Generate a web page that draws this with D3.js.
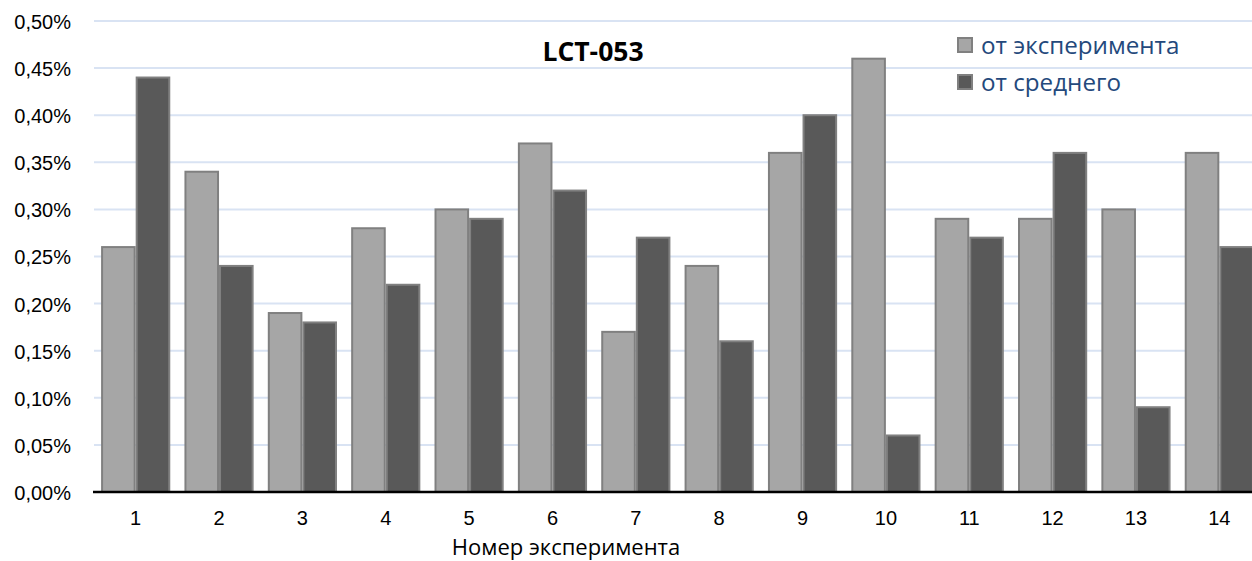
<!DOCTYPE html>
<html>
<head>
<meta charset="utf-8">
<script src="https://cdn.jsdelivr.net/npm/d3@7"></script>
<style>
  body { margin: 0; background: #fff; }
  svg { display: block; font-family: "Open Sans", "Liberation Sans", sans-serif; }
</style>
</head>
<body>
<svg id="chart" width="1252" height="561"></svg>
<script>
// Experiment numbers along the x axis
const categories = ["1","2","3","4","5","6","7","8","9","10","11","12","13","14"];
// Deviation from the experiment value, %
const fromExperiment = [0.26, 0.34, 0.19, 0.28, 0.30, 0.37, 0.17, 0.24, 0.36, 0.46, 0.29, 0.29, 0.30, 0.36];
// Deviation from the mean value, %
const fromMean = [0.44, 0.24, 0.18, 0.22, 0.29, 0.32, 0.27, 0.16, 0.40, 0.06, 0.27, 0.36, 0.09, 0.26];
const yTicks = [0, 0.05, 0.10, 0.15, 0.20, 0.25, 0.30, 0.35, 0.40, 0.45, 0.50];
const seriesNames = ["от эксперимента", "от среднего"];
const title = "LCT-053";
const xTitle = "Номер эксперимента";

const svg = d3.select("#chart");
const plotLeft = 94, plotRight = 1261, plotTop = 21, plotBottom = 492;

const x = d3.scaleBand().domain(categories).range([plotLeft, plotRight]).paddingInner(0.17).paddingOuter(0.085);
const xs = d3.scaleBand().domain([0, 1]).range([0, x.bandwidth()]);
const y = d3.scaleLinear().domain([0, 0.5]).range([plotBottom, plotTop]);
const fmt = v => v.toFixed(2).replace(".", ",") + "%";

// horizontal gridlines
svg.append("g")
  .selectAll("line").data(yTicks.filter(d => d > 0)).join("line")
  .attr("x1", plotLeft).attr("x2", 1252)
  .attr("y1", d => y(d)).attr("y2", d => y(d))
  .attr("stroke", "#d9e3f3").attr("stroke-width", 2);

// y axis labels
const yAxis = d3.axisLeft(y).tickValues(yTicks).tickFormat(fmt).tickSize(0).tickPadding(0);
const yg = svg.append("g").attr("transform", "translate(71,1)").call(yAxis);
yg.select(".domain").remove();
yg.selectAll("text").attr("font-size", 20).attr("fill", "#000");

const colors = ["#a6a6a6", "#595959"];
const series = [fromExperiment, fromMean];

series.forEach((vals, si) => {
  svg.append("g").selectAll("rect").data(vals).join("rect")
    .attr("x", (d, i) => x(categories[i]) + xs(si) + 1)
    .attr("width", xs.bandwidth() - 2)
    .attr("y", d => y(d))
    .attr("height", d => y(0) - y(d))
    .attr("fill", colors[si])
    .attr("stroke", "#808080")
    .attr("stroke-width", 2);
});

// x axis
const xAxis = d3.axisBottom(x).tickSize(0).tickPadding(0);
const xg = svg.append("g").attr("transform", `translate(0,${plotBottom})`).call(xAxis);
xg.select(".domain").remove();
xg.selectAll("text").attr("font-size", 20).attr("fill", "#000").attr("dy", null).attr("y", 33);
svg.append("line").attr("x1", plotLeft - 1).attr("x2", 1252).attr("y1", plotBottom).attr("y2", plotBottom)
  .attr("stroke", "#000").attr("stroke-width", 2.5);

svg.append("text").attr("x", 566).attr("y", 554.5).attr("text-anchor", "middle")
  .attr("font-size", 22).attr("fill", "#000").text(xTitle);

svg.append("text").attr("x", 593).attr("y", 61).attr("text-anchor", "middle")
  .attr("font-size", 26.5).attr("font-weight", "bold").attr("fill", "#000").text(title);

// legend
const lg = svg.append("g");
seriesNames.forEach((name, i) => {
  const yy = 45 + i * 37;
  lg.append("rect").attr("x", 958).attr("y", yy - 7).attr("width", 14).attr("height", 14)
    .attr("fill", colors[i]).attr("stroke", "#808080").attr("stroke-width", 2);
  lg.append("text").attr("x", 981).attr("y", yy + 9).attr("font-size", 24.2)
    .attr("fill", "#24497c").text(name);
});
</script>
</body>
</html>
